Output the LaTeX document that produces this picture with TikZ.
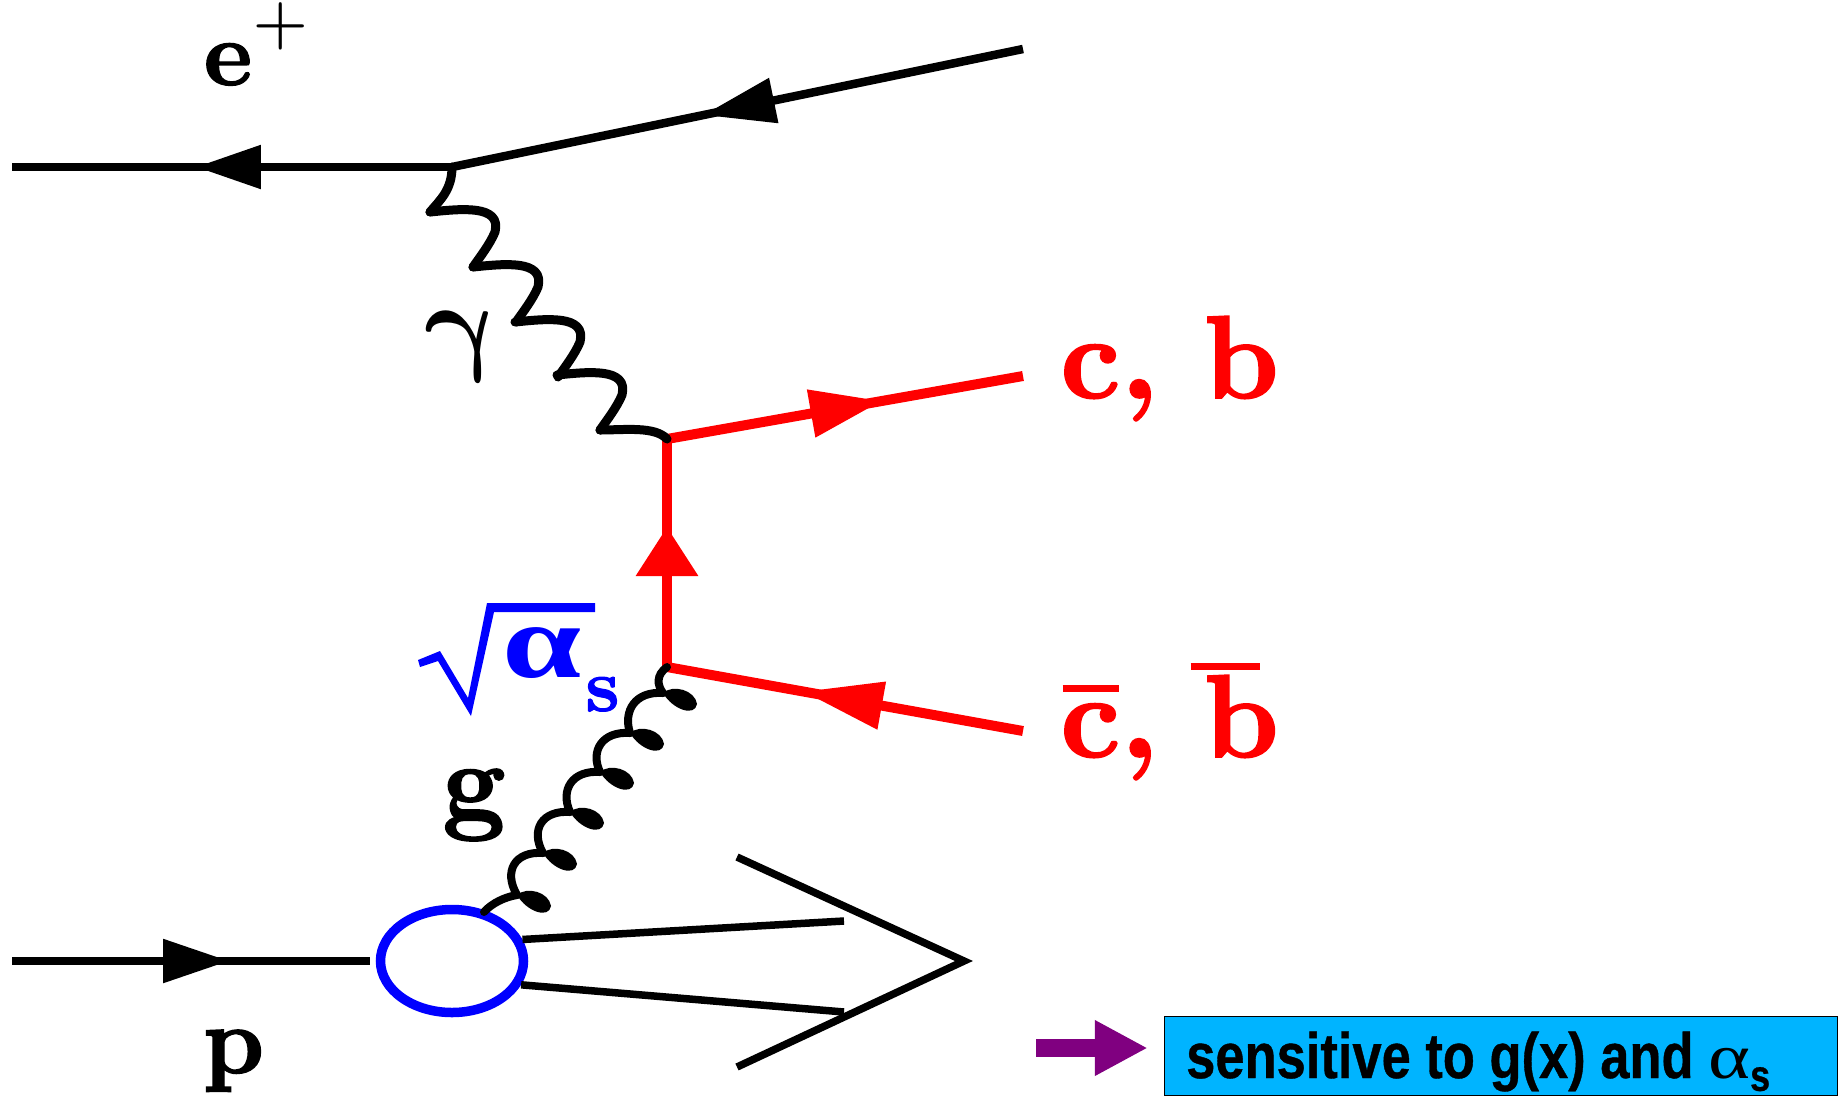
\documentclass[tikz,border=0pt]{standalone}
\usepackage{fontspec}
\usepackage{amsmath}
\usepackage{xcolor}
\usetikzlibrary{arrows.meta,decorations.markings,shapes.geometric}
\newfontfamily\boxfont[FakeStretch=0.82,BoldFeatures={FakeBold=0.6}]{Liberation Sans}
\newfontfamily\symfont{Liberation Serif}
\newfontfamily\lblfont[Extension=.otf,FakeBold=1.4]{lmroman10-bold}
\definecolor{boxblue}{HTML}{00B4FF}
\definecolor{arrowpurple}{HTML}{800080}
\newcommand{\barred}[4]{\leavevmode\rlap{\kern#2pt\raisebox{#3pt}{\rule{#4pt}{0.6pt}}}#1}
\tikzset{
  fermion/.style={line width=8.5pt,black},
  quark/.style={line width=10pt,red},
  remnant/.style={line width=7.5pt,black},
  boson/.style={line width=9pt,black,line cap=round,line join=round},
  gluon/.style={line width=8pt,black,line cap=round},
  arrowat/.style args={#1/#2/#3}{postaction={decorate},decoration={markings,
    mark=at position #1 with {\arrow{Triangle[length=#2pt,width=#3pt]}}}},
  lbl/.style={anchor=base west,inner sep=0pt,font=\lblfont},
}
\begin{document}
\begin{tikzpicture}[x=1pt,y=-1pt]
\useasboundingbox (0,0) rectangle (1844,1096);
% fixed points
\coordinate (eL) at (12,167);
\coordinate (eV) at (452,167);
\coordinate (eR) at (1023,49);
\coordinate (qTop) at (667,439);
\coordinate (qBot) at (667,667);
\coordinate (cOut) at (1023,376);
\coordinate (cbarOut) at (1023,731);
\coordinate (pIn) at (12,961);
\coordinate (remA) at (844,921);
\coordinate (remB) at (844,1012);
\coordinate (chevT) at (737,857);
\coordinate (chevM) at (964,961);
\coordinate (chevB) at (737,1067);
\coordinate (tail) at (1036,1048);
\node[ellipse,draw=blue,line width=9.5pt,minimum width=143pt,minimum height=103pt,inner sep=0pt] (blob) at (452,961) {};
\node[draw=black,line width=1.5pt,fill=boxblue,minimum width=673pt,minimum height=79pt,inner sep=0pt] (sense) at (1501,1056) {};
% lepton line
\path[fermion,draw,arrowat=0.582/65/42] (eV) -- (eL);
\path[fermion,draw,arrowat=0.56/72/44] (eR) -- (eV);
% quark lines
\path[quark,draw,arrowat=0.604/72/46] (qTop) -- (cOut);
\path[quark,draw,arrowat=0.614/49/60] (qBot) -- (qTop);
\path[quark,draw,arrowat=0.618/80/46] (cbarOut) -- (qBot);
% proton
\path[fermion,draw,arrowat=0.597/66/42,shorten >=6pt] (pIn) -- (blob);
\path[remnant,draw] (blob.17) -- (remA);
\path[remnant,draw] (blob.-19) -- (remB);
\path[remnant,draw] (chevT) -- (chevM) -- (chevB);
% photon
\draw[boson] (eV) .. controls (452,190) and (440,200) .. (430,212);
\foreach \cx/\cy in {430/212,473/267,515/322,557/375}
  \draw[boson] (\cx,\cy) .. controls (\cx+30,\cy-3) and (\cx+72,\cy-8) .. (\cx+65,\cy+20)
    .. controls (\cx+60,\cy+32) and (\cx+50,\cy+45) .. (\cx+43,\cy+55);
\draw[boson] (600,430) .. controls (625,430) and (655,426) .. (qTop);
% gluon
\draw[gluon] (qBot) .. controls (656,675) and (657,685) .. (663,693);
\foreach \ax/\ay/\bx/\by in {663/693/630/733,630/733/600/772,600/772/570/812,570/812/543/853,543/853/517/895}
  \draw[gluon] (\ax,\ay) .. controls (\ax-28,\ay-2) and (\ax-40,\ay+18) .. (\bx,\by);
\draw[gluon] (517,895) .. controls (505,897) and (492,903) .. (484,912);
\foreach \ax/\ay in {663/693,630/733,600/772,570/812,543/853,517/895}
  \fill (\ax,\ay) .. controls (\ax+10,\ay-9) and (\ax+32,\ay-3) .. (\ax+34,\ay+11)
    .. controls (\ax+32,\ay+24) and (\ax+10,\ay+17) .. (\ax,\ay);
% radical
\fill[blue] (418,660) -- (440,651) -- (468,698) -- (487,603) -- (595,603) -- (595,612) -- (494,612) -- (471,716) -- (438,661) -- (420,667) -- cycle;
% labels
\node[lbl,scale=9.2] (ePlus) at (202,85) {e\smash{\raisebox{1.0pt}{$^+$}}};
\node[lbl,scale=9.6] (pLbl) at (201,1073) {p};
\node[lbl,scale=11] (gLbl) at (440,819) {g};
\node[lbl,red,scale=11.8] (cb) at (1058,398) {c, b};
\node[lbl,red,scale=11.8] (cbarb) at (1058,757) {\barred{c}{0.2}{5.5}{4.8}, \barred{b}{-1.1}{7.4}{5.9}};
\node[anchor=base west,inner sep=0pt,scale=11,xslant=-0.25] (gam) at (430,360) {\mbox{\boldmath$\gamma$}};
\node[anchor=base west,inner sep=0pt,blue,xscale=14.2,yscale=10.6,font=\symfont\bfseries] (alphaTxt) at (500,677) {α};
\node[lbl,blue,scale=7.5] (alphaSub) at (584,711) {s};
\node[anchor=base west,inner sep=0pt,font=\fontsize{64}{64}\selectfont] (senseTxt) at (1186,1078) {\boxfont\bfseries sensitive to g(x) and \mdseries\symfont\scalebox{1.25}[1]{α}\raisebox{-.2em}{\fontsize{44}{44}\selectfont\boxfont\bfseries s}};
% pointer
\draw[line width=18pt,arrowpurple,-{Triangle[length=53pt,width=52pt]},shorten >=16pt] (tail) -- (tail -| sense.west);
\end{tikzpicture}
\end{document}
